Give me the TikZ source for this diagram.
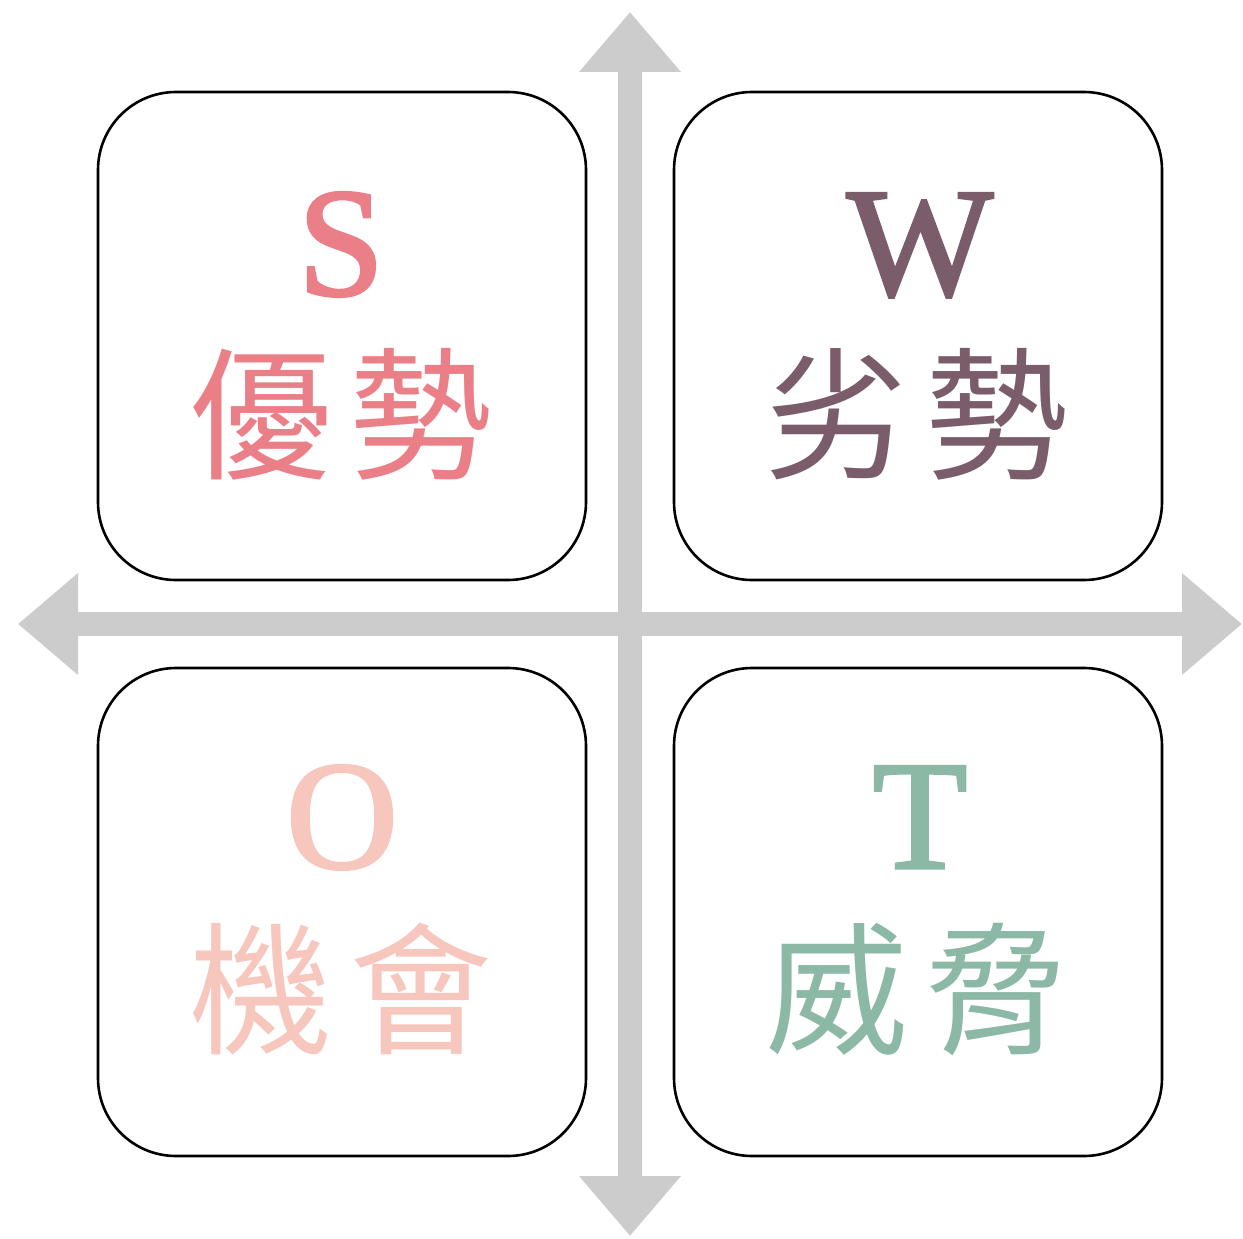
\documentclass[tikz,border=0pt]{standalone}
\usepackage{fontspec}
\setmainfont{Liberation Serif}
\newfontfamily\latinsemi[FakeBold=2]{Liberation Serif}
\newfontfamily\cjk{Noto Sans CJK TC}
\usetikzlibrary{arrows.meta}
\definecolor{axisgray}{HTML}{CCCCCC}
\definecolor{scol}{HTML}{EB7F87}
\definecolor{wcol}{HTML}{7A5C6B}
\definecolor{ocol}{HTML}{F7C6BD}
\definecolor{tcol}{HTML}{8CB8A6}
\tikzset{
  quad/.style={draw=black, line width=2.6pt, rounded corners=78pt, minimum width=488pt, minimum height=488pt, inner sep=0pt},
  bigletter/.style={anchor=base, inner sep=0pt, font=\latinsemi\fontsize{155}{155}\selectfont},
  cjkword/.style={anchor=base, inner sep=0pt, font=\cjk\fontsize{143}{143}\selectfont},
  axis/.style={axisgray, line width=24pt, line cap=butt, {Triangle[length=60pt,width=98pt]}-{Triangle[length=60pt,width=98pt]}}
}
\begin{document}
\begin{tikzpicture}[x=1pt,y=-1pt]
\useasboundingbox (0,0) rectangle (1243,1239);
\coordinate (top) at (630,12);
\coordinate (bottom) at (630,1236);
\coordinate (left) at (18,624);
\coordinate (right) at (1242,624);
\draw[axis] (top) -- (bottom);
\draw[axis] (left) -- (right);
\node[quad] (sbox) at (342,336) {};
\node[quad] (wbox) at (918,336) {};
\node[quad] (obox) at (342,912) {};
\node[quad] (tbox) at (918,912) {};
\node[bigletter, text=scol] (sl) at (341,295) {S};
\node[bigletter, text=wcol] (wl) at (920,295) {W};
\node[bigletter, text=ocol] (ol) at (342,868) {O};
\node[bigletter, text=tcol] (tl) at (920,868) {T};
\node[cjkword, text=scol] (sw) at (341,468) {優\hspace{18pt}勢};
\node[cjkword, text=wcol] (ww) at (917,468) {劣\hspace{18pt}勢};
\node[cjkword, text=ocol] (ow) at (341,1043) {機\hspace{18pt}會};
\node[cjkword, text=tcol] (tw) at (917,1043) {威\hspace{18pt}脅};
\end{tikzpicture}
\end{document}
